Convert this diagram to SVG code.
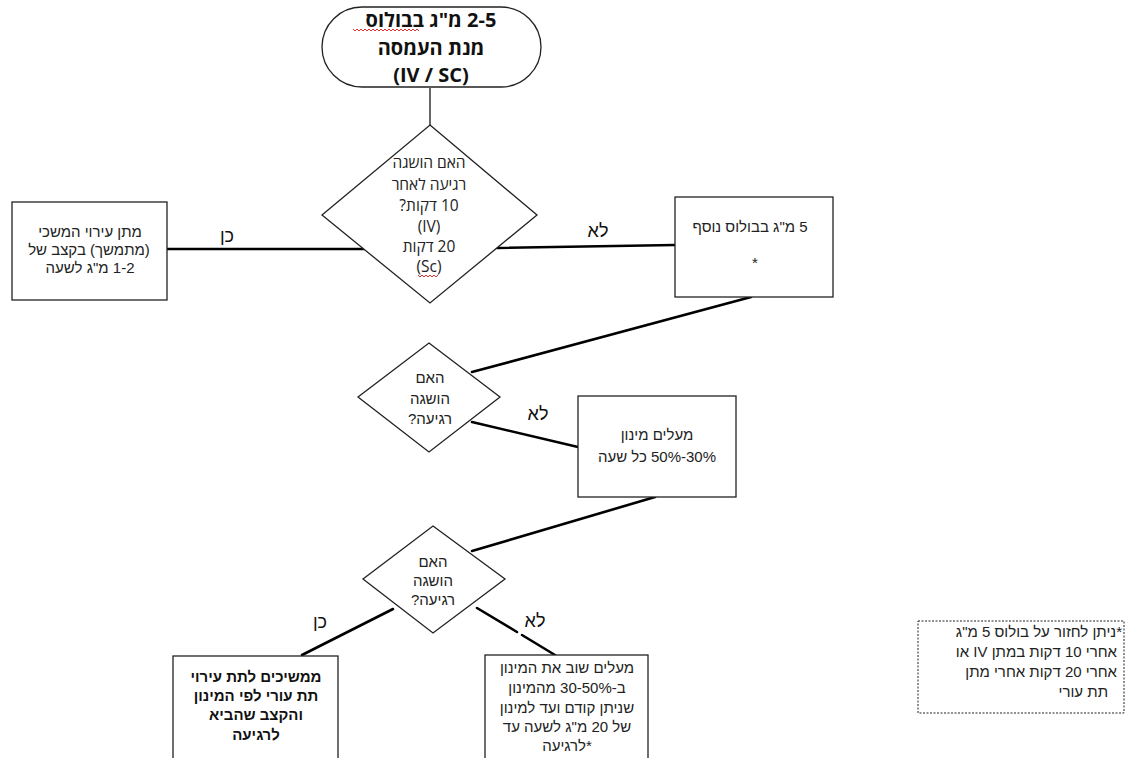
<svg xmlns="http://www.w3.org/2000/svg" width="1126" height="758" viewBox="0 0 1126 758">
<style>
.shape{fill:#ffffff;stroke:#222222;stroke-width:1.3}
.conn{stroke:#000000;stroke-width:2.6;fill:none;stroke-linecap:round}
.thin{stroke:#000000;stroke-width:1.2;fill:none}
.t{font-family:"Liberation Sans","DejaVu Sans",sans-serif;font-size:15px;fill:#222222;text-anchor:middle;direction:rtl}
.d{font-family:"Open Sans","Liberation Sans","DejaVu Sans",sans-serif;font-size:15.5px;fill:#222222;text-anchor:middle;direction:rtl}
.title{font-family:"Open Sans","Liberation Sans","DejaVu Sans",sans-serif;font-size:20px;font-weight:bold;fill:#111111;text-anchor:middle;direction:rtl}
.b{font-family:"Liberation Sans","DejaVu Sans",sans-serif;font-size:15px;font-weight:bold;fill:#111111;text-anchor:middle;direction:rtl}
.lbl{font-family:"Liberation Sans","DejaVu Sans",sans-serif;font-size:18px;fill:#111111;text-anchor:middle;direction:rtl}
.note{font-family:"Liberation Sans","DejaVu Sans",sans-serif;font-size:15px;fill:#222222;text-anchor:start;direction:rtl}
.sq{stroke:#e03030;stroke-width:1;fill:none}
</style>
<rect width="1126" height="758" fill="#ffffff"/>

<g id="connectors">
  <line class="thin" x1="430" y1="88" x2="430" y2="126"/>
  <line class="conn" x1="167" y1="249" x2="364" y2="249"/>
  <line class="conn" x1="497" y1="248" x2="675" y2="245"/>
  <line class="conn" x1="751" y1="297" x2="472" y2="372"/>
  <line class="conn" x1="472" y1="422" x2="578" y2="447"/>
  <line class="conn" x1="655" y1="497" x2="472" y2="551"/>
  <line class="conn" x1="393" y1="609" x2="302" y2="655"/>
  <line class="conn" x1="477" y1="608" x2="517" y2="632"/>
  <line class="conn" x1="522" y1="635" x2="555" y2="655"/>
</g>

<g id="labels">
  <text class="lbl" x="227" y="242">כן</text>
  <text class="lbl" x="598" y="237">לא</text>
  <text class="lbl" x="538" y="420">לא</text>
  <text class="lbl" x="320" y="628">כן</text>
  <text class="lbl" x="535" y="627">לא</text>
</g>

<g id="start">
  <rect class="shape" x="322" y="7" width="219" height="80" rx="40" ry="40"/>
  <text class="title" x="431" y="27">2-5 מ"ג בבולוס</text>
  <text class="title" x="431" y="55">מנת העמסה</text>
  <text class="title" x="431" y="82">(IV / SC)</text>
  <path class="sq" d="M353,29 l2,2 l2,-2 l2,2 l2,-2 l2,2 l2,-2 l2,2 l2,-2 l2,2 l2,-2 l2,2 l2,-2 l2,2 l2,-2 l2,2 l2,-2 l2,2 l2,-2 l2,2 l2,-2 l2,2 l2,-2 l2,2 l2,-2 l2,2 l2,-2 l2,2 l2,-2 l2,2 l2,-2 l2,2 l2,-2 l2,2"/>
</g>

<g id="decision1">
  <polygon class="shape" points="430,125 537,215 430,303 322,215"/>
  <text class="d" x="429" y="168">האם הושגה</text>
  <text class="d" x="429" y="190">רגיעה לאחר</text>
  <text class="d" x="429" y="211">10 דקות?</text>
  <text class="d" x="429" y="232">(IV)</text>
  <text class="d" x="429" y="252">20 דקות</text>
  <text class="d" x="429" y="272">(Sc)</text>
  <path class="sq" d="M418,275 l2,2 l2,-2 l2,2 l2,-2 l2,2 l2,-2 l2,2 l2,-2 l2,2 l2,-2"/>
</g>

<g id="continuous-infusion">
  <rect class="shape" x="12" y="202" width="155" height="98"/>
  <text class="t" x="90" y="237">מתן עירוי המשכי</text>
  <text class="t" x="89" y="255">(מתמשך) בקצב של</text>
  <text class="t" x="90" y="273">1-2 מ"ג לשעה</text>
</g>

<g id="extra-bolus">
  <rect class="shape" x="675" y="197" width="158" height="100"/>
  <text class="t" x="750" y="232">5 מ"ג בבולוס נוסף</text>
  <text class="t" x="755" y="268">*</text>
</g>

<g id="decision2">
  <polygon class="shape" points="429,343 500,397 429,452 358,397"/>
  <text class="t" x="430" y="383">האם</text>
  <text class="t" x="430" y="404">הושגה</text>
  <text class="t" x="430" y="424">רגיעה?</text>
</g>

<g id="raise-dose">
  <rect class="shape" x="578" y="396" width="158" height="101"/>
  <text class="t" x="657" y="440">מעלים מינון</text>
  <text class="t" x="657" y="462">30%-50% כל שעה</text>
</g>

<g id="decision3">
  <polygon class="shape" points="433,526 505,579 433,633 363,579"/>
  <text class="t" x="433" y="567">האם</text>
  <text class="t" x="433" y="586">הושגה</text>
  <text class="t" x="433" y="605">רגיעה?</text>
</g>

<g id="continue-sc">
  <rect class="shape" x="173" y="656" width="165" height="120"/>
  <text class="b" x="256" y="682">ממשיכים לתת עירוי</text>
  <text class="b" x="256" y="701">תת עורי לפי המינון</text>
  <text class="b" x="256" y="720">והקצב שהביא</text>
  <text class="b" x="256" y="740">לרגיעה</text>
</g>

<g id="raise-again">
  <rect class="shape" x="485" y="655" width="163" height="120"/>
  <text class="t" x="567" y="673">מעלים שוב את המינון</text>
  <text class="t" x="567" y="693">ב-30-50% מהמינון</text>
  <text class="t" x="567" y="713">שניתן קודם ועד למינון</text>
  <text class="t" x="567" y="732">של 20 מ"ג לשעה עד</text>
  <text class="t" x="567" y="751">*לרגיעה</text>
</g>

<g id="note">
  <rect x="918" y="621" width="206" height="92" fill="#ffffff" stroke="#222222" stroke-width="1" stroke-dasharray="2,1.5"/>
  <text class="note" x="1122" y="637">*ניתן לחזור על בולוס 5 מ"ג</text>
  <text class="note" x="1117" y="657">אחרי 10 דקות במתן IV או</text>
  <text class="note" x="1117" y="677">אחרי 20 דקות אחרי מתן</text>
  <text class="note" x="1108" y="697">תת עורי</text>
</g>
</svg>
